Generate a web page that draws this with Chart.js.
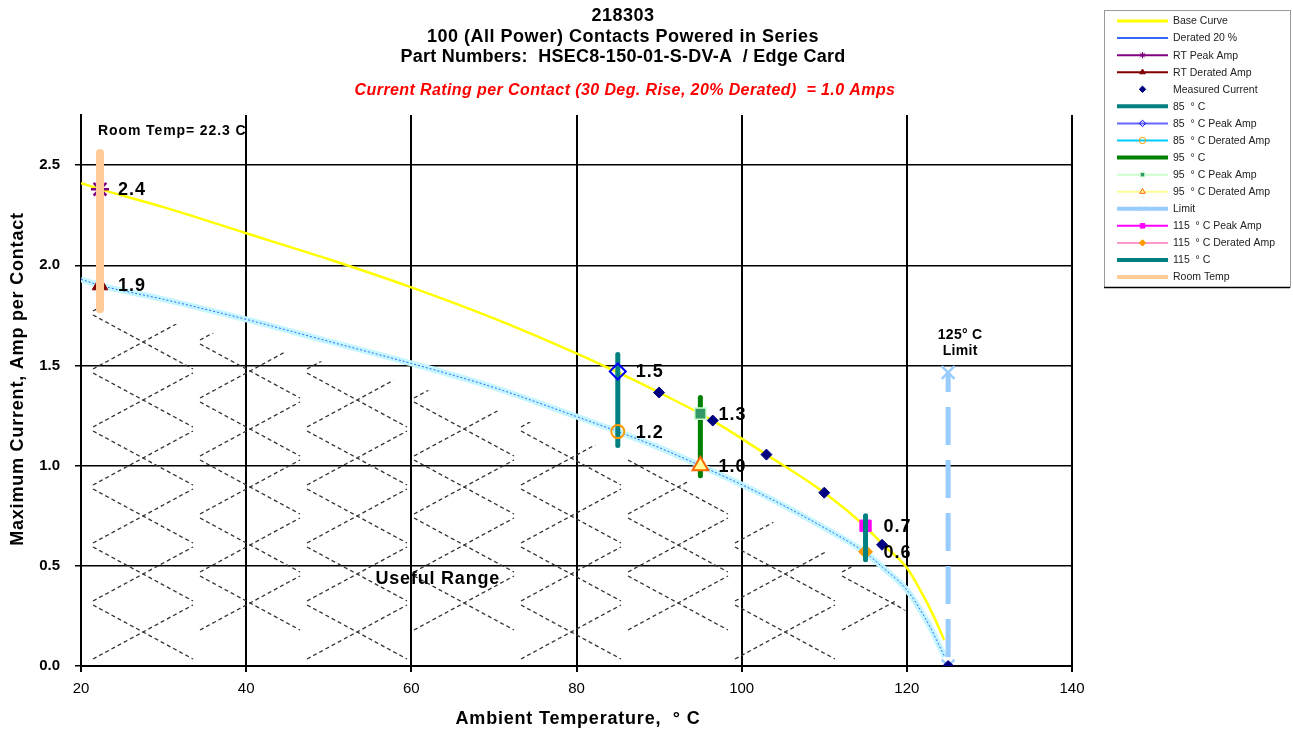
<!DOCTYPE html>
<html>
<head>
<meta charset="utf-8">
<title>218303 Current Rating</title>
<script src="https://cdn.jsdelivr.net/npm/chart.js@4.4.1/dist/chart.umd.min.js"></script>
<style>
  html, body { margin: 0; padding: 0; background: #ffffff; }
  #wrap { width: 1293px; height: 733px; }
</style>
</head>
<body>
<div id="wrap"><canvas id="chart" width="1293" height="733"></canvas></div>
<script>
// ---- data ----
const baseTemps = [20, 22.3, 30, 40, 50, 60, 70, 80, 85, 90, 96.5, 103, 110, 115, 117, 120, 122, 123, 124, 124.5];
const baseAmps  = [2.41, 2.38, 2.29, 2.16, 2.03, 1.89, 1.735, 1.56, 1.465, 1.365, 1.225, 1.055, 0.865, 0.695, 0.61, 0.49, 0.35, 0.27, 0.18, 0.13];

const deratedTemps = [20, 22.3, 30, 40, 50, 60, 70, 80, 85, 90, 95, 103, 110, 115, 117, 120, 122, 123, 124, 124.6];
const deratedAmps  = [1.93, 1.90, 1.83, 1.73, 1.62, 1.51, 1.39, 1.245, 1.17, 1.09, 1.00, 0.845, 0.69, 0.565, 0.495, 0.38, 0.255, 0.18, 0.095, 0.045];

const measuredTemps = [90, 96.5, 103, 110, 117, 125];
const measuredAmps  = [1.365, 1.225, 1.055, 0.865, 0.605, 0];

// test temperatures: room temp, 85, 95, 115 deg C
const testTemps   = [22.3, 85, 95, 115];
const peakAmps    = [2.38, 1.47, 1.26, 0.70];
const testDerated = [1.90, 1.17, 1.00, 0.57];
const spanLow     = [1.78, 1.10, 0.95, 0.53];
const spanHigh    = [2.56, 1.555, 1.34, 0.75];

const limitTemp  = 125;
const limitSpan  = [0, 1.465];

const xTickValues = [20, 40, 60, 80, 100, 120, 140];
const yTickValues = [0, 0.5, 1.0, 1.5, 2.0, 2.5];

const seriesNames = [
  'Base Curve', 'Derated 20 %', 'RT Peak Amp', 'RT Derated Amp', 'Measured Current',
  '85  ° C', '85  ° C Peak Amp', '85  ° C Derated Amp', '95  ° C', '95  ° C Peak Amp',
  '95  ° C Derated Amp', 'Limit', '115  ° C Peak Amp', '115  ° C Derated Amp', '115  ° C', 'Room Temp'
];

const titleLines = [
  '218303',
  '100 (All Power) Contacts Powered in Series',
  'Part Numbers:  HSEC8-150-01-S-DV-A  / Edge Card'
];
const ratingLine = 'Current Rating per Contact (30 Deg. Rise, 20% Derated)  = 1.0 Amps';
const xTitle = 'Ambient Temperature,  ° C';
const yTitle = 'Maximum Current, Amp per Contact';

// ---- helpers ----
const FONT = "'Liberation Sans', Arial, Helvetica, sans-serif";
const pts = (xs, ys) => xs.map((x, i) => ({ x: x, y: ys[i] }));
const single = (x, y) => [{ x: x, y: y }];
const vspan = i => [{ x: testTemps[i], y: spanLow[i] }, { x: testTemps[i], y: spanHigh[i] }];

function marker(label, data, style, radius, fill, stroke, lineColor, bw) {
  return {
    label: label, data: data, showLine: false,
    borderColor: lineColor, borderWidth: 2, legendWidth: 2,
    pointStyle: style, pointRadius: radius, pointBorderWidth: bw,
    pointBackgroundColor: fill, pointBorderColor: stroke
  };
}
function span(label, data, color, width) {
  return {
    label: label, data: data, showLine: true,
    borderColor: color, borderWidth: width, borderCapStyle: 'round',
    legendWidth: 4, pointRadius: 0
  };
}
function spacedText(ctx, text, x, y, spacing) {
  ctx.letterSpacing = spacing + 'px';
  ctx.fillText(text, x, y);
  ctx.letterSpacing = '0px';
}

// ---- datasets (listed in legend order) ----
const legendSets = [
  { label: seriesNames[0], data: pts(baseTemps, baseAmps), showLine: true, borderColor: '#FFFF00',
    borderWidth: 2.5, legendWidth: 3, pointRadius: 0, cubicInterpolationMode: 'monotone' },
  { label: seriesNames[1], data: pts(deratedTemps, deratedAmps), showLine: true, borderColor: '#3366FF',
    borderWidth: 1, borderDash: [2, 2], legendWidth: 2, pointRadius: 0, cubicInterpolationMode: 'monotone' },
  marker(seriesNames[2], single(testTemps[0], peakAmps[0]), 'star', 9, '#800080', '#800080', '#800080', 2.5),
  marker(seriesNames[3], single(testTemps[0], testDerated[0]), 'triangle', 9, '#800000', '#800000', '#800000', 1),
  Object.assign(marker(seriesNames[4], pts(measuredTemps, measuredAmps), 'rectRot', 5.5, '#000080', '#000080', '#000080', 1), { noLegendLine: true }),
  span(seriesNames[5], vspan(1), '#008080', 5),
  marker(seriesNames[6], single(testTemps[1], peakAmps[1]), 'rectRot', 8, 'rgba(255,255,255,0)', '#0000FF', '#6666FF', 2),
  marker(seriesNames[7], single(testTemps[1], testDerated[1]), 'circle', 6.5, 'rgba(255,255,255,0)', '#FF9900', '#00CCFF', 2),
  span(seriesNames[8], vspan(2), '#008000', 5),
  marker(seriesNames[9], single(testTemps[2], peakAmps[2]), 'rect', 8, '#339966', '#CCFFCC', '#CCFFCC', 1.5),
  marker(seriesNames[10], single(testTemps[2], testDerated[2]), 'triangle', 9, '#FFFF99', '#FF6600', '#FFFF99', 2),
  { label: seriesNames[11], data: [{ x: limitTemp, y: limitSpan[0] }, { x: limitTemp, y: limitSpan[1] }],
    showLine: true, borderColor: '#99CCFF', borderWidth: 5, borderDash: [38, 15], borderDashOffset: 44,
    legendWidth: 4, pointStyle: 'crossRot', pointRadius: 9, pointBorderWidth: 2.5,
    pointBorderColor: '#99CCFF', pointBackgroundColor: '#99CCFF' },
  marker(seriesNames[12], single(testTemps[3], peakAmps[3]), 'rect', 8, '#FF00FF', '#FF00FF', '#FF00FF', 1),
  marker(seriesNames[13], single(testTemps[3], testDerated[3]), 'rectRot', 7, '#FF9900', '#FF9900', '#FF99CC', 1),
  span(seriesNames[14], vspan(3), '#008080', 5),
  span(seriesNames[15], vspan(0), '#FFCC99', 8)
];

// later legend entries are painted over earlier ones
legendSets.forEach((d, i) => { d.order = legendSets.length - i + 1; });
legendSets[4].order = 0;   // measured points sit on top of everything

// wide pale band under the derated curve
const deratedBand = {
  label: 'band', data: pts(deratedTemps, deratedAmps), showLine: true,
  borderColor: '#C4F6FF', borderWidth: 6, pointRadius: 0,
  cubicInterpolationMode: 'monotone', order: legendSets.length + 5
};

// ---- plugins ----
const hatchPlugin = {
  id: 'usefulRangeHatch',
  beforeDatasetsDraw(chart) {
    const { ctx, chartArea: a, scales: { x, y } } = chart;
    const last = deratedTemps.length - 1;
    ctx.save();
    ctx.beginPath();
    ctx.moveTo(x.getPixelForValue(deratedTemps[0]) + 4, a.bottom - 4);
    ctx.lineTo(x.getPixelForValue(deratedTemps[0]) + 4, y.getPixelForValue(deratedAmps[0]) + 22);
    deratedTemps.forEach((t, i) => ctx.lineTo(x.getPixelForValue(t), y.getPixelForValue(deratedAmps[i]) + 22));
    ctx.lineTo(x.getPixelForValue(deratedTemps[last]) - 22, a.bottom - 4);
    ctx.closePath();
    ctx.clip();
    ctx.setLineDash([4, 3]);
    ctx.lineWidth = 1.3;
    ctx.strokeStyle = '#333333';
    const colW = 107, rowH = 58, ax = 50, ay = 27;
    for (let col = 0; ; col++) {
      const cx = a.left + 62 + col * colW;
      if (cx - ax > a.right) break;
      const off = (col % 2) * rowH / 2;
      for (let cy = a.bottom - 34 - off; cy > a.top - ay; cy -= rowH) {
        ctx.beginPath();
        ctx.moveTo(cx - ax, cy - ay); ctx.lineTo(cx + ax, cy + ay);
        ctx.moveTo(cx - ax, cy + ay); ctx.lineTo(cx + ax, cy - ay);
        ctx.stroke();
      }
    }
    ctx.restore();
  }
};

const annotationPlugin = {
  id: 'annotations',
  afterDatasetsDraw(chart) {
    const { ctx, scales: { x, y } } = chart;
    ctx.save();
    ctx.fillStyle = '#000000';
    ctx.textBaseline = 'middle';
    ctx.textAlign = 'left';
    ctx.font = 'bold 18px ' + FONT;
    testTemps.forEach((t, i) => {
      const px = x.getPixelForValue(t) + 18;
      spacedText(ctx, peakAmps[i].toFixed(1), px, y.getPixelForValue(peakAmps[i]) + 1, 1);
      spacedText(ctx, testDerated[i].toFixed(1), px, y.getPixelForValue(testDerated[i]) + 1, 1);
    });
    ctx.font = 'bold 14px ' + FONT;
    spacedText(ctx, 'Room Temp= ' + testTemps[0] + ' C', x.getPixelForValue(testTemps[0]) - 2, 131, 0.9);
    ctx.textAlign = 'center';
    const lx = x.getPixelForValue(limitTemp) + 12, ly = y.getPixelForValue(limitSpan[1]);
    spacedText(ctx, limitTemp + '° C', lx, ly - 37, 0.3);
    spacedText(ctx, 'Limit', lx, ly - 21, 0.3);
    ctx.font = 'bold 18px ' + FONT;
    spacedText(ctx, 'Useful Range', x.getPixelForValue(63.2), y.getPixelForValue(0.435), 0.8);
    ctx.restore();
  }
};

const headerPlugin = {
  id: 'header',
  afterDraw(chart) {
    const ctx = chart.ctx;
    ctx.save();
    ctx.textAlign = 'center';
    ctx.textBaseline = 'middle';
    ctx.fillStyle = '#000000';
    ctx.font = 'bold 18px ' + FONT;
    [16, 37, 57].forEach((yy, i) => spacedText(ctx, titleLines[i], 623, yy, i === 2 ? 0.25 : 0.5));
    ctx.fillStyle = '#FF0000';
    ctx.font = 'italic bold 16px ' + FONT;
    spacedText(ctx, ratingLine, 625, 91, 0.4);
    // axis titles
    ctx.fillStyle = '#000000';
    ctx.font = 'bold 18px ' + FONT;
    spacedText(ctx, xTitle, 578, 719, 0.8);
    ctx.translate(18, 379);
    ctx.rotate(-Math.PI / 2);
    spacedText(ctx, yTitle, 0, 0, 0.8);
    ctx.restore();
  }
};

const legendPlugin = {
  id: 'seriesKey',
  afterDraw(chart) {
    const ctx = chart.ctx;
    const bx = 1104, by = 10, bw = 186, bh = 277;
    ctx.save();
    ctx.fillStyle = '#ffffff';
    ctx.fillRect(bx, by, bw, bh);
    ctx.strokeStyle = '#9a9a9a';
    ctx.lineWidth = 1;
    ctx.strokeRect(bx + 0.5, by + 0.5, bw, bh);
    ctx.strokeStyle = '#000000';
    ctx.lineWidth = 1.5;
    ctx.beginPath(); ctx.moveTo(bx, by + bh + 0.5); ctx.lineTo(bx + bw, by + bh + 0.5); ctx.stroke();
    const drawPoint = Chart.helpers && Chart.helpers.drawPoint;
    legendSets.forEach((d, i) => {
      const yy = 21 + i * 17.07;
      if (!d.noLegendLine) {
        ctx.strokeStyle = d.borderColor;
        ctx.lineWidth = d.legendWidth;
        ctx.setLineDash([]);
        ctx.beginPath(); ctx.moveTo(1117, yy); ctx.lineTo(1168, yy); ctx.stroke();
      }
      if (d.pointRadius > 0 && drawPoint) {
        ctx.fillStyle = d.pointBackgroundColor;
        ctx.strokeStyle = d.pointBorderColor;
        ctx.lineWidth = 1;
        drawPoint(ctx, { pointStyle: d.pointStyle, radius: 3.2, borderWidth: 1, rotation: 0 }, 1142.5, yy);
      }
      ctx.fillStyle = '#222222';
      ctx.font = '10.5px ' + FONT;
      ctx.textAlign = 'left';
      ctx.textBaseline = 'middle';
      ctx.fillText(d.label, 1173, yy + 0.5);
    });
    ctx.restore();
  }
};

// ---- chart ----
Chart.defaults.font.family = FONT;
Chart.defaults.color = '#000000';

new Chart(document.getElementById('chart'), {
  type: 'scatter',
  data: { datasets: [deratedBand].concat(legendSets) },
  options: {
    responsive: false,
    animation: false,
    devicePixelRatio: 1,
    events: [],
    layout: { padding: { top: 115, right: 221, bottom: 0, left: 0 } },
    plugins: { legend: { display: false }, tooltip: { enabled: false }, title: { display: false } },
    scales: {
      x: {
        type: 'linear', min: 20, max: 140,
        afterFit: s => { s.height = 67; },
        afterBuildTicks: s => { s.ticks = xTickValues.map(v => ({ value: v })); },
        grid: { color: '#000000', lineWidth: 2, tickLength: 6, drawTicks: true },
        border: { color: '#000000', width: 2 },
        ticks: { font: { size: 15 }, padding: 8, color: '#000000', maxRotation: 0 },
        title: { display: false }
      },
      y: {
        type: 'linear', min: 0, max: 2.75,
        afterFit: s => { s.width = 81; },
        afterBuildTicks: s => { s.ticks = yTickValues.map(v => ({ value: v })); },
        grid: { color: '#000000', lineWidth: 1.5, tickLength: 6, drawTicks: true },
        border: { color: '#000000', width: 2 },
        ticks: { font: { size: 15, weight: 'bold' }, padding: 15, color: '#000000',
                 callback: v => Number(v).toFixed(1) },
        title: { display: false }
      }
    }
  },
  plugins: [hatchPlugin, annotationPlugin, headerPlugin, legendPlugin]
});
</script>
</body>
</html>
